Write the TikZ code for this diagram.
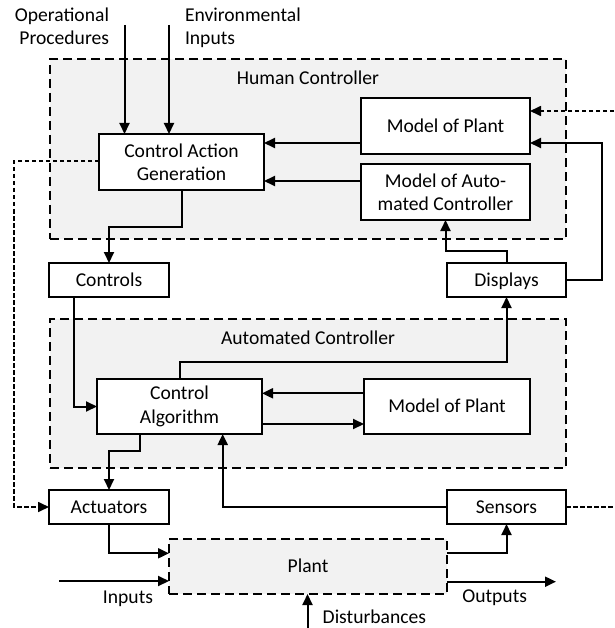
\documentclass[tikz,border=0pt]{standalone}
\usepackage{fontspec}
\setmainfont{Carlito}
\usetikzlibrary{arrows.meta}
\definecolor{panel}{HTML}{F2F2F2}
\begin{document}
\begin{tikzpicture}[x=1pt,y=-1pt,
  font=\fontsize{19.6}{23.3}\selectfont,
  every node/.style={inner sep=0pt, outer sep=0pt},
  box/.style={draw, line width=2pt, fill=white, align=center},
  onebox/.style={box, text height=12.6pt, text depth=0pt},
  panelbox/.style={draw, line width=2pt, fill=panel, dash pattern=on 9pt off 5pt},
  link/.style={line width=2pt, -{Triangle[length=11pt,width=10pt]}},
  fb/.style={line width=1.7pt, dash pattern=on 4.5pt off 2.5pt, -{Triangle[length=11pt,width=10pt]}},
  fbline/.style={line width=1.7pt, dash pattern=on 4.5pt off 2.5pt},
]
\useasboundingbox (0,0) rectangle (614,628);

% controller panels
\node[panelbox, minimum width=516pt, minimum height=180pt] (hc) at (308,149) {};
\node[panelbox, minimum width=516pt, minimum height=149pt] (ac) at (308,393.5) {};
\node[anchor=base] (hctitle) at (308,85) {Human Controller};
\node[anchor=base] (actitle) at (308,344.3) {Automated Controller};

% blocks
\node[box, minimum width=165pt, minimum height=56pt] (cag) at (181.5,162) {Control Action\\Generation};
\node[onebox, minimum width=169pt, minimum height=56pt] (hmp) at (445.5,126) {Model of Plant};
\node[box, minimum width=169pt, minimum height=56pt] (mac) at (445.5,192) {Model of Auto-\\mated Controller};
\node[onebox, minimum width=120pt, minimum height=34pt] (controls) at (109,280) {Controls};
\node[onebox, minimum width=119pt, minimum height=34pt] (displays) at (506.5,280) {Displays};
\node[box, minimum width=165pt, minimum height=55pt] (ca) at (179.5,406.5) {Control\\Algorithm};
\node[onebox, minimum width=166pt, minimum height=55pt] (amp) at (447,406.5) {Model of Plant};
\node[onebox, minimum width=120pt, minimum height=34pt] (actuators) at (109,507) {Actuators};
\node[onebox, minimum width=119pt, minimum height=34pt] (sensors) at (506.5,507) {Sensors};
\node[panelbox, text height=12.6pt, text depth=0pt, minimum width=278pt, minimum height=55pt] (plant) at (308,566.5) {Plant};

% outside labels (base anchor sits on the last line)
\node[anchor=base east, align=right] (ops) at (109,45) {Operational\\Procedures};
\node[anchor=base west, align=left] (env) at (185,45) {Environmental\\Inputs};
\node[anchor=base] (inlab) at (128,603.3) {Inputs};
\node[anchor=base] (outlab) at (494.7,602.3) {Outputs};
\node[anchor=base west] (dist) at (322.7,623.3) {Disturbances};

% free ends
\coordinate (opsrc) at (124.5,25);
\coordinate (envsrc) at (169,25);
\coordinate (hmpin) at (614,111);
\coordinate (sensout) at (614,507);
\coordinate (insrc) at (59.3,581);
\coordinate (outend) at (556,581.7);
\coordinate (diststart) at (307.5,628);

% connectors
\draw[link] (opsrc) -- (opsrc |- cag.north);
\draw[link] (envsrc) -- (envsrc |- cag.north);
\draw[link] (hmp.west |- 0,143) -- (cag.east |- 0,143);
\draw[link] (mac.west |- 0,181) -- (cag.east |- 0,181);
\draw[link] (cag.south) -- (cag.south |- 0,227) -| (controls.north);
\draw[fb] (cag.west |- 0,161) -- (14,161) |- (actuators.west);
\draw[link] (displays.north) -- (displays.north |- 0,251) -| (mac.south);
\draw[link] (displays.east) -| (602,143) -- (hmp.east |- 0,143);
\draw[fb] (hmpin) -- (hmp.east |- hmpin);
\draw[link] (controls.south -| 74,0) |- (ca.west);
\draw[link] (amp.west |- 0,393.3) -- (ca.east |- 0,393.3);
\draw[link] (ca.east |- 0,424) -- (amp.west |- 0,424);
\draw[link] (ca.north) -- (ca.north |- 0,362) -| (displays.south);
\draw[link] (ca.south -| 140,0) -- (140,451) -| (actuators.north);
\draw[link] (sensors.west) -| (ca.south -| 222.7,0);
\draw[fbline] (sensors.east) -- (sensout);
\draw[link] (actuators.south) |- (plant.west |- 0,553.3);
\draw[link] (insrc) -- (plant.west |- insrc);
\draw[link] (plant.east |- 0,553.3) -| (sensors.south);
\draw[link] (plant.east |- outend) -- (outend);
\draw[link] (diststart) -- (diststart |- plant.south);
\end{tikzpicture}
\end{document}
